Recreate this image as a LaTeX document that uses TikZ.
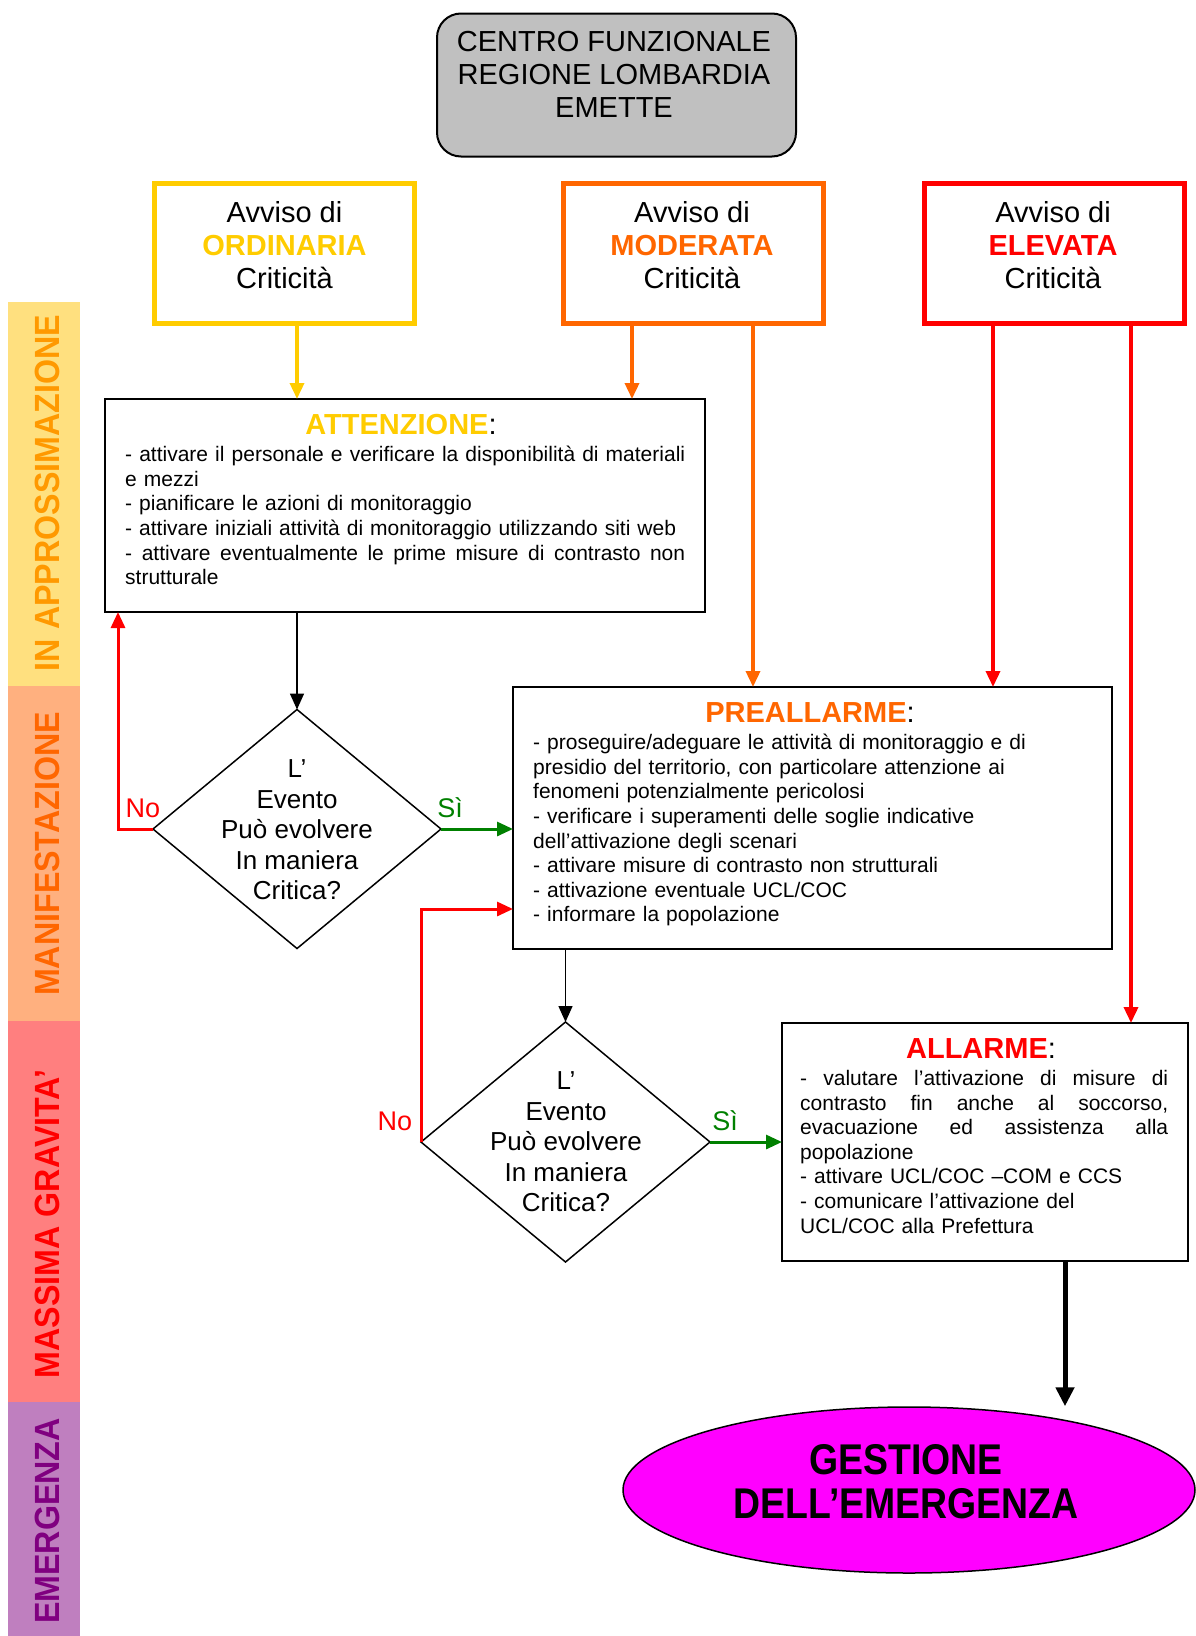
\documentclass[tikz,border=0pt]{standalone}
\usepackage{fontspec}
\setmainfont{Liberation Sans}
\newfontfamily\narrowfont{Liberation Sans}[FakeStretch=0.87]
\newfontfamily\bandfont{Liberation Sans}[FakeStretch=0.92]
\usepackage{tikz}
\usetikzlibrary{positioning,shapes.geometric,arrows.meta}
\definecolor{ordinaria}{HTML}{FFCC00}
\definecolor{moderata}{HTML}{FF6600}
\definecolor{elevata}{HTML}{FF0000}
\definecolor{sigreen}{HTML}{008000}
\definecolor{cfgray}{HTML}{C0C0C0}
\definecolor{gestmag}{HTML}{FF00FF}
\definecolor{bandA}{HTML}{FFE07F}
\definecolor{bandB}{HTML}{FFB07F}
\definecolor{bandC}{HTML}{FF7F7F}
\definecolor{bandD}{HTML}{BF7FBF}
\definecolor{bandAtext}{HTML}{FF9900}
\definecolor{bandDtext}{HTML}{800080}
\newcommand{\jline}[2]{\makebox[#1][s]{\spaceskip=0.278em plus 1em\relax #2}}
\tikzset{avviso node/.style={rectangle,draw,line width=5pt,minimum width=260pt,minimum height=140pt,outer sep=0pt},
         action node/.style={rectangle,draw,line width=2pt,outer sep=0pt},
         decision node/.style={diamond,draw,line width=1.5pt,outer sep=0pt,minimum width=288pt,minimum height=239pt},}
\tikzstyle{big text} = [font=\fontsize{29}{33}\selectfont,align=center]
\tikzstyle{title text} = [font=\fontsize{29}{33}\selectfont]
\tikzstyle{body text} = [font=\fontsize{21}{24.6}\selectfont,align=left,anchor=north west]
\tikzstyle{dec text} = [font=\fontsize{26}{30.5}\selectfont,align=center]
\tikzstyle{band text} = [font=\bandfont\bfseries\fontsize{35}{40}\selectfont,rotate=90]
\tikzstyle{yes no} = [font=\fontsize{27}{30}\selectfont]
\tikzstyle{flow} = [-{Triangle[length=16pt,width=14pt]}]

\begin{document}
\begin{tikzpicture}[x=1pt,y=-1pt,inner sep=0pt]
  \useasboundingbox (0,0) rectangle (1195,1636);
  % fasce laterali
  \fill[bandA] (8,302) rectangle (80,686);
  \fill[bandB] (8,686) rectangle (80,1021);
  \fill[bandC] (8,1021) rectangle (80,1402);
  \fill[bandD] (8,1402) rectangle (80,1636);
  \node[band text, text=bandAtext] (fa) at (47,493) {IN APPROSSIMAZIONE};
  \node[band text, text=moderata] (fb) at (47,854) {MANIFESTAZIONE};
  \node[band text, text=elevata] (fc) at (47,1224) {MASSIMA GRAVITA’};
  \node[band text, text=bandDtext] (fd) at (47,1521) {EMERGENZA};

  % centro funzionale e avvisi
  \node[rectangle, rounded corners=24pt, draw, line width=2pt, fill=cfgray,
        minimum width=359pt, minimum height=143pt] (cf) at (616.5,85) {};
  \node[big text] (cft) at (614,74) {CENTRO FUNZIONALE\\REGIONE LOMBARDIA\\EMETTE};
  \node[avviso node, draw=ordinaria] (ord) at (284.5,253.5) {};
  \node[avviso node, draw=moderata] (mod) at (693,253.5) {};
  \node[avviso node, draw=elevata] (ele) at (1054.5,253.5) {};
  \node[big text] (ordt) at (284.5,245) {Avviso di\\\textcolor{ordinaria}{\bfseries ORDINARIA}\\Criticità};
  \node[big text] (modt) at (692,245) {Avviso di\\\textcolor{moderata}{\bfseries MODERATA}\\Criticità};
  \node[big text] (elet) at (1053,245) {Avviso di\\\textcolor{elevata}{\bfseries ELEVATA}\\Criticità};

  % fasi
  \node[action node, minimum width=600pt, minimum height=213pt] (att) at (405,505.5) {};
  \node[title text] (attt) at (401,425) {\textcolor{ordinaria}{\bfseries ATTENZIONE}:};
  \node[body text, text width=560pt] (attb) at (125,446)
    {\jline{560pt}{- attivare il personale e verificare la disponibilità di materiali}\\
     e mezzi\\
     - pianificare le azioni di monitoraggio\\
     - attivare iniziali attività di monitoraggio utilizzando siti web\\
     \jline{560pt}{- attivare eventualmente le prime misure di contrasto non}\\
     strutturale};

  \node[action node, minimum width=599pt, minimum height=262pt] (pre) at (812.5,818) {};
  \node[title text] (pret) at (810,713) {\textcolor{moderata}{\bfseries PREALLARME}:};
  \node[body text, text width=560pt] (preb) at (533,734)
    {- proseguire/adeguare le attività di monitoraggio e di\\
     presidio del territorio, con particolare attenzione ai\\
     fenomeni potenzialmente pericolosi\\
     - verificare i superamenti delle soglie indicative\\
     dell’attivazione degli scenari\\
     - attivare misure di contrasto non strutturali\\
     - attivazione eventuale UCL/COC\\
     - informare la popolazione};

  \node[action node, minimum width=406pt, minimum height=238pt] (all) at (985,1142) {};
  \node[title text] (allt) at (981,1049) {\textcolor{elevata}{\bfseries ALLARME}:};
  \node[body text, text width=368pt] (allb) at (800,1070)
    {\jline{368pt}{- valutare l’attivazione di misure di}\\
     \jline{368pt}{contrasto fin anche al soccorso,}\\
     \jline{368pt}{evacuazione ed assistenza alla}\\
     popolazione\\
     - attivare UCL/COC –COM e CCS\\
     - comunicare l’attivazione del\\
     UCL/COC alla Prefettura};

  % decisioni
  \node[decision node] (d1) at (297,829) {};
  \node[dec text] (d1t) at (297,830) {L’\\Evento\\Può evolvere\\In maniera\\Critica?};
  \node[decision node, minimum width=289pt, minimum height=240pt] (d2) at (565.5,1142) {};
  \node[dec text] (d2t) at (566,1142) {L’\\Evento\\Può evolvere\\In maniera\\Critica?};

  \node[ellipse, draw, line width=1.5pt, fill=gestmag, minimum width=572pt,
        minimum height=166pt] (gest) at (909,1490) {};
  \node[font=\narrowfont\bfseries\fontsize{43}{44}\selectfont, align=center] (gestt) at (906,1482)
    {GESTIONE\\DELL’EMERGENZA};

  \node[yes no, text=elevata] (no1) at (143,808) {No};
  \node[yes no, text=sigreen] (si1) at (450,808) {Sì};
  \node[yes no, text=elevata] (no2) at (395,1121) {No};
  \node[yes no, text=sigreen] (si2) at (725,1121) {Sì};

  % frecce
  \coordinate (m1) at ([xshift=-61pt]mod.south);
  \coordinate (m2) at ([xshift=60pt]mod.south);
  \coordinate (e1) at ([xshift=-61.5pt]ele.south);
  \coordinate (e2) at ([xshift=76.5pt]ele.south);
  \coordinate (n1) at ([xshift=-35pt]d1.west);
  \coordinate (n2) at (513,909);
  \coordinate (g1) at ([xshift=80pt]all.south);
  \draw[flow, ordinaria, line width=3.5pt] (ord.south -| d1.north) -- (att.north -| d1.north);
  \draw[flow, moderata, line width=3.5pt] (m1) -- (m1 |- att.north);
  \draw[flow, moderata, line width=3.5pt] (m2) -- (m2 |- pre.north);
  \draw[flow, elevata, line width=3.5pt] (e1) -- (e1 |- pre.north);
  \draw[flow, elevata, line width=3.5pt] (e2) -- (e2 |- all.north);
  \draw[flow, line width=1.5pt] (att.south -| d1.north) -- (d1.north);
  \draw[flow, line width=1.5pt] (pre.south -| d2.north) -- (d2.north);
  \draw[flow, elevata, line width=3pt] (d1.west) -- (n1) -- (n1 |- att.south);
  \draw[flow, sigreen, line width=3pt] (d1.east) -- (d1.east -| pre.west);
  \draw[flow, elevata, line width=3pt] (d2.west) |- (n2);
  \draw[flow, sigreen, line width=3pt] (d2.east) -- (d2.east -| all.west);
  \draw[-{Triangle[length=19pt,width=18pt]}, line width=5pt] (g1) -- (g1 |- gest.north);
\end{tikzpicture}
\end{document}
